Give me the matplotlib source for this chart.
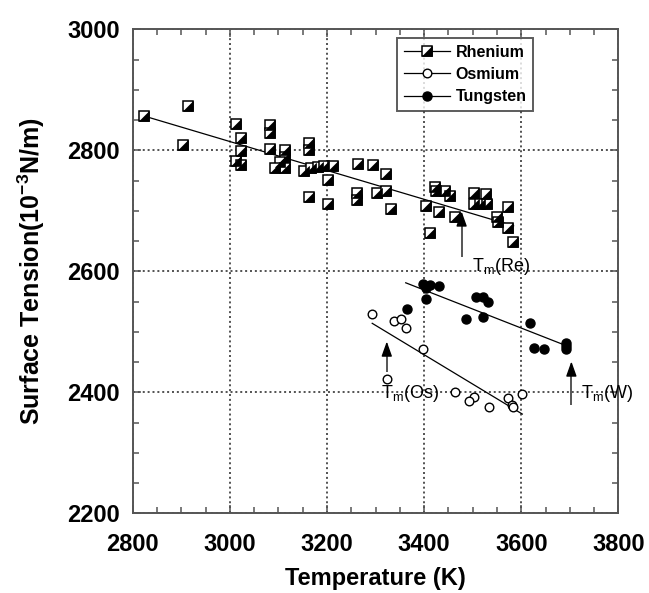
import numpy as np
import matplotlib
matplotlib.use("Agg")
import matplotlib.pyplot as plt
from matplotlib.path import Path
from matplotlib.lines import Line2D

# ---------------- data ----------------
re_T = [2824, 2913, 2903, 3012, 3023, 3023, 3012, 3023, 3082, 3082, 3082, 3113,
        3113, 3103, 3093, 3113, 3163, 3163, 3153, 3167, 3181, 3194, 3213, 3201,
        3163, 3201, 3263, 3294, 3321, 3261, 3261, 3302, 3321, 3331, 3403, 3412,
        3423, 3425, 3443, 3453, 3431, 3463, 3503, 3527, 3503, 3514, 3530, 3550,
        3552, 3573, 3573, 3582]
re_S = [2857, 2874, 2808, 2843, 2820, 2799, 2782, 2776, 2842, 2829, 2802, 2800,
        2789, 2781, 2770, 2770, 2812, 2800, 2765, 2770, 2773, 2774, 2774, 2751,
        2723, 2712, 2777, 2776, 2761, 2729, 2718, 2729, 2732, 2703, 2708, 2664,
        2740, 2732, 2733, 2725, 2698, 2690, 2730, 2727, 2711, 2711, 2711, 2689,
        2682, 2706, 2671, 2648]

os_T = [3293, 3338, 3352, 3363, 3398, 3323, 3463, 3503, 3493, 3533, 3573, 3581,
        3583, 3602]
os_S = [2529, 2518, 2521, 2507, 2471, 2422, 2400, 2393, 2386, 2375, 2391, 2379,
        2375, 2397]

w_T = [3397, 3412, 3431, 3403, 3403, 3364, 3506, 3521, 3532, 3487, 3521, 3618,
       3626, 3646, 3692, 3692, 3692]
w_S = [2579, 2577, 2576, 2572, 2555, 2538, 2557, 2558, 2549, 2521, 2525, 2514,
       2474, 2471, 2482, 2477, 2471]

# fitted lines (end points)
re_fit_T = [2822, 3584]
re_fit_S = [2857, 2675]
os_fit_T = [3293, 3602]
os_fit_S = [2514, 2364]
w_fit_T = [3362, 3683]
w_fit_S = [2581, 2480]

# melting point annotations: label, T, arrow tail S, arrow head S, text T, text S
tm_labels = ["Re", "Os", "W"]
tm_T = [3477, 3323, 3703]
tm_tail = [2624, 2434, 2379]
tm_head = [2699, 2484, 2451]
tm_text_T = [3499, 3311, 3723]
tm_text_S = [2600, 2390, 2391]

series_names = ["Rhenium", "Osmium", "Tungsten"]

# ---------------- style ----------------
plt.rcParams['font.family'] = ['Liberation Sans', 'DejaVu Sans']
plt.rcParams['mathtext.fontset'] = 'custom'
plt.rcParams['mathtext.rm'] = 'Liberation Sans'
plt.rcParams['mathtext.it'] = 'Liberation Sans'
plt.rcParams['mathtext.bf'] = 'Liberation Sans:bold'

fig = plt.figure(figsize=(6.49, 5.93), dpi=100)
ax = fig.add_axes([0.2045, 0.1344, 0.7485, 0.8162])

spine_col = '#555555'
grid_col = '#444444'

ax.set_xlim(2800, 3800)
ax.set_ylim(2200, 3000)
ax.set_xticks(np.arange(2800, 3801, 200))
ax.set_yticks(np.arange(2200, 3001, 200))
ax.set_xticks(np.arange(2800, 3801, 50), minor=True)
ax.set_yticks(np.arange(2200, 3001, 50), minor=True)
ax.grid(True, which='major', linestyle=(0, (1.1, 1.6)), color=grid_col, linewidth=1.3)
ax.set_axisbelow(True)

for s in ax.spines.values():
    s.set_color(spine_col)
    s.set_linewidth(1.4)

ax.tick_params(which='both', direction='in', top=True, right=True,
               color=spine_col, width=1.1)
ax.tick_params(which='major', length=6)
ax.tick_params(which='minor', length=4)
ax.tick_params(axis='x', which='major', pad=14, labelsize=17)
ax.tick_params(axis='y', which='major', pad=9, labelsize=17)
for lab in ax.get_xticklabels() + ax.get_yticklabels():
    lab.set_fontweight('bold')

# half filled square marker
tri = Path([(-1, -1), (1, -1), (1, 1), (-1, -1)],
           [Path.MOVETO, Path.LINETO, Path.LINETO, Path.CLOSEPOLY])
msq = 7.0

ax.plot(re_fit_T, re_fit_S, color='black', lw=0.9, zorder=3)
ax.plot(os_fit_T, os_fit_S, color='black', lw=0.9, zorder=3)
ax.plot(w_fit_T, w_fit_S, color='black', lw=0.9, zorder=3)

ax.plot(re_T, re_S, linestyle='none', marker='s', ms=msq, mfc='white',
        mec='black', mew=1.1, zorder=4)
ax.plot(re_T, re_S, linestyle='none', marker=tri, ms=msq, mfc='black',
        mec='black', mew=0.5, zorder=5)

ax.plot(os_T, os_S, linestyle='none', marker='o', ms=6.2, mfc='white',
        mec='black', mew=1.0, zorder=4)
ax.plot(w_T, w_S, linestyle='none', marker='o', ms=6.5, mfc='black',
        mec='black', mew=1.0, zorder=4)

for lab, t, s0, s1, tx, ty in zip(tm_labels, tm_T, tm_tail, tm_head, tm_text_T, tm_text_S):
    # grey shaft
    ax.plot([t, t], [s0, s1 - 10], color='#555555', lw=1.4, zorder=6,
            solid_capstyle='butt')
    # black head
    ax.annotate('', xy=(t, s1), xytext=(t, s1 - 12),
                arrowprops=dict(arrowstyle='-|>,head_length=0.9,head_width=0.32',
                                color='black', lw=1.0, shrinkA=0, shrinkB=0),
                zorder=7)
    ax.text(tx, ty, r'T$_\mathregular{m}$(' + lab + ')', fontsize=13,
            ha='left', va='baseline', zorder=7)

ax.set_xlabel('Temperature (K)', fontsize=17, fontweight='bold', labelpad=8)
ax.set_ylabel(r'Surface Tension(10$^{\mathbf{-3}}$N/m)', fontsize=18,
              fontweight='bold', labelpad=15)

# legend
h_re = (Line2D([], [], color='black', lw=0.9, marker='s', ms=msq, mfc='white', mec='black', mew=1.1),
        Line2D([], [], color='black', lw=0, marker=tri, ms=msq, mfc='black', mec='black', mew=0.5))
h_os = Line2D([], [], color='black', lw=0.9, marker='o', ms=6.2, mfc='white', mec='black')
h_w = Line2D([], [], color='black', lw=0.9, marker='o', ms=6.5, mfc='black', mec='black')
leg = ax.legend([h_re, h_os, h_w], series_names, loc='upper right',
                bbox_to_anchor=(0.824, 0.981), prop=dict(weight='bold', size=11.5),
                frameon=True, fancybox=False, handlelength=2.9, handletextpad=0.35,
                borderpad=0.4, labelspacing=0.45, borderaxespad=0)
leg.get_frame().set_edgecolor('#333333')
leg.get_frame().set_linewidth(1.4)

fig.savefig('out.png', dpi=100)
